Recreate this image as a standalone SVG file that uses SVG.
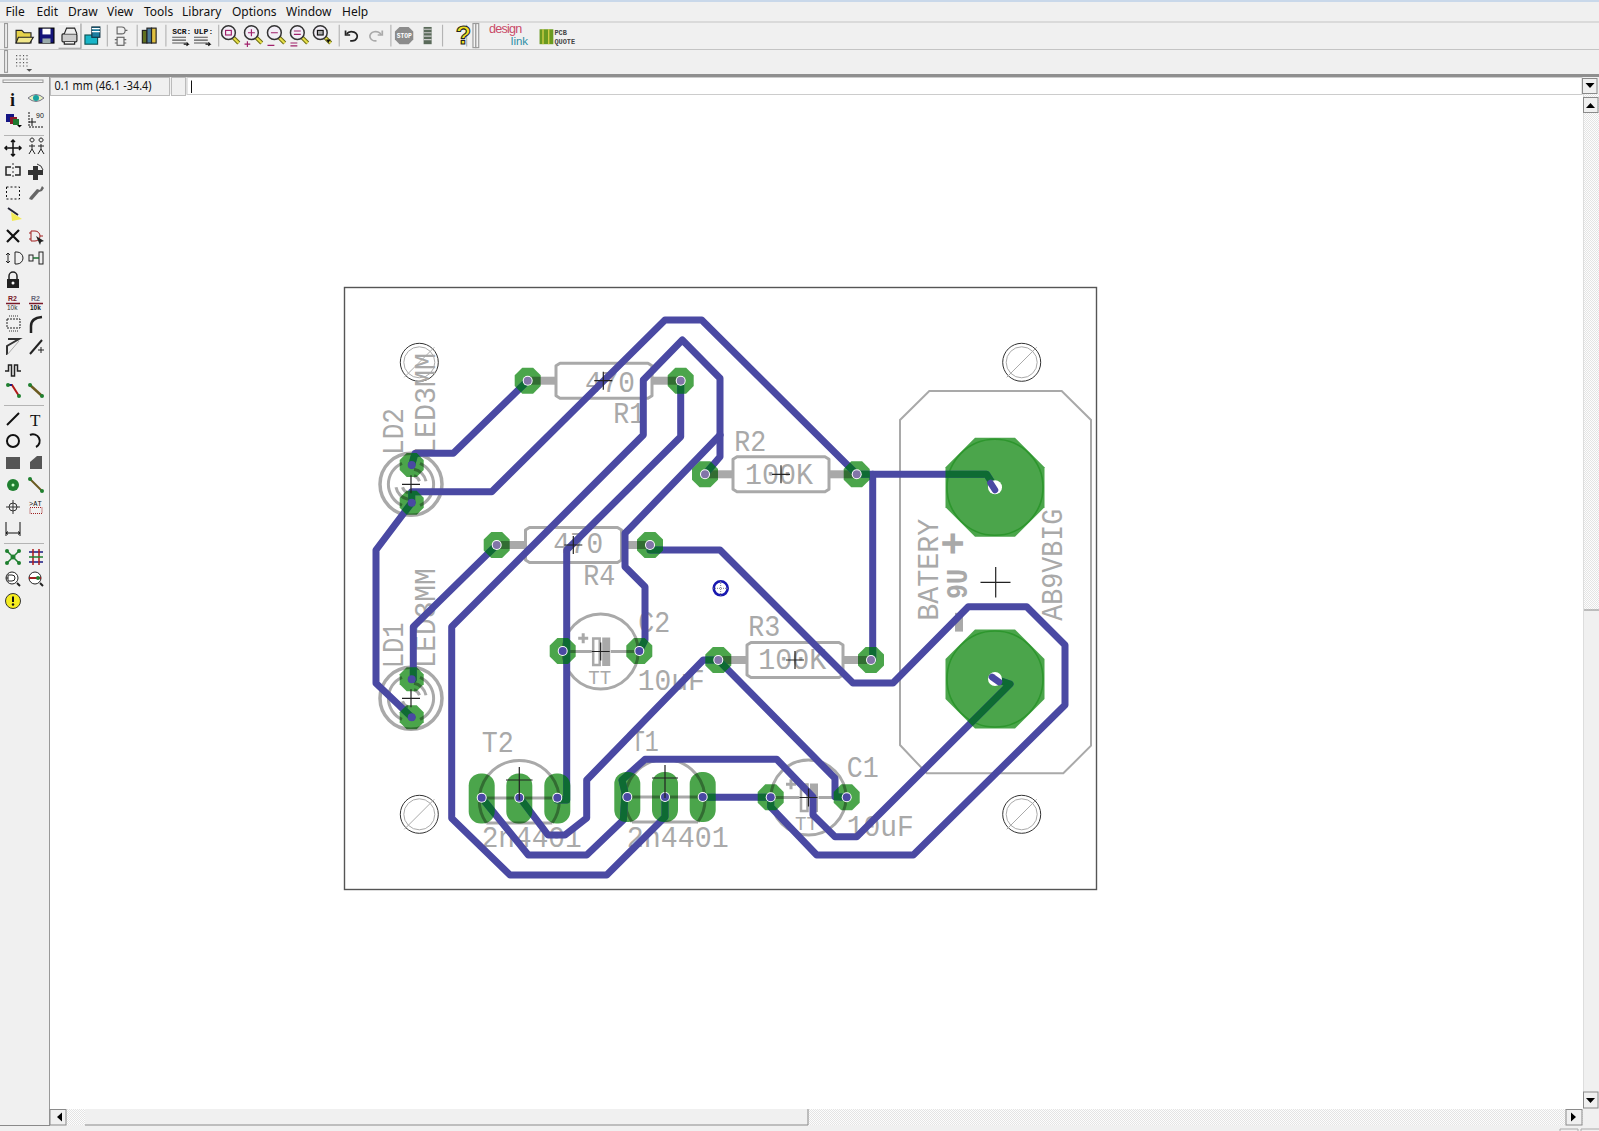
<svg xmlns="http://www.w3.org/2000/svg" xmlns:xlink="http://www.w3.org/1999/xlink" width="1599" height="1131" viewBox="0 0 1599 1131">
<style>
.menu{font:12px "Noto Sans","Liberation Sans",sans-serif;fill:#111}
.silk{font-family:"Liberation Mono","DejaVu Sans Mono",monospace;font-size:29px;fill:#a9a9a9}
.sl{fill:none;stroke:#a9a9a9;stroke-width:3}
.tr{fill:none;stroke:#4a49a3;stroke-width:7;stroke-linejoin:round;stroke-linecap:round}
.trd{fill:none;stroke:#0e6b33;stroke-width:7;stroke-linejoin:round;stroke-linecap:round}
.pad{fill:#4ba54b}
.hole{fill:#fff}
.dot{fill:#4a49a3}
.dotg{fill:#8275a8}
.xh{fill:none;stroke:#222;stroke-width:1.2}
.sep{stroke:#b4b4b4;stroke-width:1}
.ic{fill:none;stroke:#111;stroke-width:2}
.grip{fill:#f4f4f4;stroke:#999;stroke-width:1}
.btn{fill:#f0f0f0;stroke:#8a8a8a;stroke-width:1}
.arr{fill:#000}
.tiny{font-family:"Liberation Mono",monospace;font-weight:bold}
</style>
<defs>
<polygon id="p13" points="-5.4,-13 5.4,-13 13,-5.4 13,5.4 5.4,13 -5.4,13 -13,5.4 -13,-5.4"/>
<polygon id="p12" points="-5,-12 5,-12 12,-5 12,5 5,12 -5,12 -12,5 -12,-5"/>
<polygon id="pb" points="-20,-49.5 20,-49.5 49.5,-20 49.5,20 20,49.5 -20,49.5 -49.5,20 -49.5,-20"/>
<rect id="po" x="-13" y="-25" width="26" height="50" rx="12" ry="12"/>
<g id="mh">
<circle r="19" fill="none" stroke="#333" stroke-width="1"/>
<circle r="15.5" fill="none" stroke="#aaa" stroke-width="1"/>
<line x1="-15" y1="15" x2="15" y2="-15" stroke="#aaa" stroke-width="1"/>
</g>
<g id="res">
<path class="sl" d="M-44,-17.5H44L48,-15V15L44,17.5H-44L-48,15V-15Z" stroke-linejoin="round"/>
<rect x="-76" y="-4" width="28" height="8" fill="#a9a9a9"/>
<rect x="48" y="-4" width="28" height="8" fill="#a9a9a9"/>
</g>
<g id="cap">
<circle r="37.5" class="sl"/>
<path d="M-37,0H-9M10,0H37" stroke="#a9a9a9" stroke-width="3"/>
<rect x="-7.5" y="-13" width="6.5" height="26.5" fill="none" stroke="#a9a9a9" stroke-width="2.5"/>
<rect x="1.5" y="-14" width="8" height="28.5" fill="#a9a9a9"/>
<path d="M-22.5,-13.3H-12.5M-17.5,-18.3V-8.3" stroke="#a9a9a9" stroke-width="3"/>
</g>
<g id="tra">
<path class="sl" d="M-33,25A40,40 0 1 1 33,25"/>
<path class="sl" d="M-33,25H33"/>
<path d="M-38,0H38" stroke="#a9a9a9" stroke-width="3"/>
</g>
<g id="led">
<circle r="31" class="sl" style="stroke-width:3.5"/>
<path class="sl" d="M-9,-21A23,23 0 0 0 -9,21M9,21A23,23 0 0 0 9,-21"/>
<path class="sl" d="M3,-15A15,15 0 0 1 15,-3M-3,15A15,15 0 0 1 -15,3M3,-8.500A8.500,8.500 0 0 1 8.500,-3M-3,8.500A8.500,8.500 0 0 1 -8.500,3"/>
</g>
<path id="xs" class="xh" d="M-9,0H9M0,-9V9"/>
<g id="mag">
<line x1="3" y1="3" x2="9" y2="9" stroke="#6b6b10" stroke-width="3.6"/>
<line x1="3" y1="3" x2="9" y2="9" stroke="#e6df4a" stroke-width="1.8"/>
<circle r="6" fill="#f2eef6" stroke="#333" stroke-width="1.3"/>
</g>
<pattern id="dith" width="2" height="2" patternUnits="userSpaceOnUse">
<rect width="2" height="2" fill="#fdfdfd"/><rect width="1" height="1" fill="#e4e4e4"/><rect x="1" y="1" width="1" height="1" fill="#e4e4e4"/>
</pattern>
<clipPath id="padclip">
<use xlink:href="#p13" x="527.700" y="380.700"/><use xlink:href="#p13" x="680.700" y="380.700"/>
<use xlink:href="#p13" x="705" y="474.300"/><use xlink:href="#p13" x="856.700" y="474.300"/>
<use xlink:href="#p13" x="496.700" y="545"/><use xlink:href="#p13" x="650" y="545"/>
<use xlink:href="#p13" x="718.300" y="660"/><use xlink:href="#p13" x="871" y="660"/>
<use xlink:href="#p13" x="562.700" y="651"/><use xlink:href="#p13" x="639.300" y="651"/>
<use xlink:href="#p13" x="770.700" y="797.300"/><use xlink:href="#p13" x="846.700" y="797.300"/>
<use xlink:href="#p12" x="411.700" y="465"/><use xlink:href="#p12" x="411.700" y="502.700"/>
<use xlink:href="#p12" x="411.700" y="679.300"/><use xlink:href="#p12" x="411.700" y="717.300"/>
<use xlink:href="#po" x="481.700" y="798.500"/><use xlink:href="#po" x="519.300" y="798.500"/><use xlink:href="#po" x="557.300" y="798.500"/>
<use xlink:href="#po" x="627.300" y="797"/><use xlink:href="#po" x="665" y="797"/><use xlink:href="#po" x="702.700" y="797"/>
<use xlink:href="#pb" x="995" y="487.300"/><use xlink:href="#pb" x="995" y="679"/>
</clipPath>
<g id="tracepaths">
<path d="M411.700,465L415,453.300H453.300L527.700,380.700"/>
<path d="M411.700,502.700V491.700H491.700L665,320H701.700L856.700,474.300H986.700L995,487.300"/>
<path d="M411.700,502.700L376,550V683.300L411.700,717.300"/>
<path d="M680.700,380.700V436.700L566.700,550V800H557.300"/>
<path d="M705,474.300L720,456.700V378.300L682.300,340L643.300,380V435L451.700,626.700V818.300L510,875H606.700L665,817V797"/>
<path d="M720,435L625,533.300V566.700L645,586.700V640L639.300,651"/>
<path d="M650,550H720L853,683H893L968.300,606.700H1026.700L1065,645V705L913.300,855H816.700L770.700,807V797.300H702.700"/>
<path d="M718.300,660H703.300L586.700,780V818L565,835H548L519.300,797"/>
<path d="M718.300,660L835,778.300V796.700L846.700,797.300"/>
<path d="M481.700,797.700L528.300,855H586.700L623.300,820L625,793L622,780L645,759.300H776.700L813,797V815L835,836.700H856.700L1010,684L995,679"/>
<path d="M872.700,474.300V660H871"/>
<path d="M496.700,545L413.300,626.700V679.300H411.700"/>
</g>
</defs>

<rect width="1599" height="1131" fill="#f0f0f0"/>
<rect x="50" y="94" width="1533" height="1015" fill="#fff"/>
<rect width="1599" height="2" fill="#c9d8ea"/>

<g id="menubar">
<text class="menu" x="5.500" y="16">File</text><text class="menu" x="36.500" y="16">Edit</text><text class="menu" x="68" y="16">Draw</text><text class="menu" x="107" y="16">View</text><text class="menu" x="144" y="16">Tools</text><text class="menu" x="182" y="16">Library</text><text class="menu" x="232" y="16">Options</text><text class="menu" x="286" y="16">Window</text><text class="menu" x="342" y="16">Help</text>
</g>
<path d="M0,22H1599M0,49.500H1599" stroke="#c4c4c4" stroke-width="1"/>
<rect x="0" y="74" width="1599" height="3" fill="#8f8f8f"/>
<rect x="49" y="77" width="1" height="1048" fill="#999"/>

<g id="toolbar">
<g transform="translate(0,35) scale(1.148) translate(0,-35)">
<rect class="grip" x="4" y="25" width="2.500" height="21"/><rect class="grip" x="412" y="25" width="2.500" height="21"/><rect class="grip" x="414.500" y="25" width="2.500" height="21"/>
<path class="sep" d="M93.500,26V45M119.500,26V45M144.500,26V45M190.500,26V45M295.500,26V45M340.500,26V45M385.500,26V45M406.500,26V45"/>
<g id="t-open"><path d="M14,31h5l2,2h6v9H14z" fill="#e6d24a" stroke="#222"/><path d="M16,37H29L26,42H14z" fill="#f1e78a" stroke="#222"/></g>
<g id="t-save"><rect x="34" y="29" width="13" height="13" fill="#14147a" stroke="#000"/><rect x="37" y="29.500" width="7" height="5" fill="#fff"/><rect x="37" y="38" width="7" height="4" fill="#9aa"/></g>
<g id="t-print"><path d="M51,25.500H70V46" fill="none" stroke="#fff"/><path d="M51,46.500H70.500V25" fill="none" stroke="#999"/><rect x="54" y="34" width="13" height="7" rx="1" fill="#ccc" stroke="#222"/><path d="M56,34L58,29H65L67,34M56,41V43H65V41" fill="#eee" stroke="#222"/></g>
<g id="t-cam"><rect x="74" y="35" width="11" height="8" fill="#18b5c8" stroke="#155"/><rect x="80" y="28" width="7" height="9" fill="#1b7ea0" stroke="#134"/><path d="M80,29.500h7M80,32h7" stroke="#fff"/></g>
<g id="t-sch" stroke="#666" fill="none"><path d="M102,28h4a3,3 0 0 1 0,6h-4zM109,31h2"/><rect x="102" y="37" width="6" height="7"/><path d="M100,39h2M100,42h2M108,39h2M108,42h2"/></g>
<g id="t-lib"><rect x="124" y="31" width="4" height="11" fill="#607020" stroke="#222"/><rect x="128" y="29" width="4" height="13" fill="#4b7a9a" stroke="#222"/><rect x="132" y="29" width="4" height="13" fill="#e0c040" stroke="#222"/></g>
<g id="t-scr"><text class="tiny" x="150" y="34" font-size="7" fill="#111">SCR:</text><path d="M150,37h12M150,39.500h12M150,42h12" stroke="#555"/><path d="M160,43h4l-1.500,-1.500M164,43l-1.500,1.500" stroke="#111" fill="none"/><text class="tiny" x="169" y="34" font-size="7" fill="#111">ULP:</text><path d="M169,37h12M169,39.500h12M169,42h12" stroke="#555"/><path d="M179,43h4l-1.500,-1.500M183,43l-1.500,1.500" stroke="#111" fill="none"/></g>
<g id="t-zoom">
<use xlink:href="#mag" x="199" y="33"/><rect x="196.500" y="31" width="5" height="4" fill="none" stroke="#a0206a"/>
<use xlink:href="#mag" x="219" y="33"/><path d="M216,33h6M219,30v6M213,43h5M215.500,40.500v5" stroke="#a0206a" fill="none"/>
<use xlink:href="#mag" x="239" y="33"/><path d="M236,33h6M233,44h6" stroke="#a0206a" fill="none"/>
<use xlink:href="#mag" x="259" y="33"/><path d="M256,31.500h6M256,34.500h6M253,42h6M253,44.500h6" stroke="#a0206a" fill="none"/>
<use xlink:href="#mag" x="279" y="33"/><rect x="276.500" y="31" width="5" height="4" fill="#a9a9a9" stroke="#111"/><path d="M284,39h4l-2,3z" fill="#111"/>
</g>
<g id="t-undo" fill="none" stroke="#222" stroke-width="1.500"><path d="M302,34a5,4 0 1 1 3,6"/><path d="M301,31v4h4"/></g>
<g id="t-redo" fill="none" stroke="#aaa" stroke-width="1.500"><path d="M332,35a5,4 0 1 0 -4,5"/><path d="M333,31v4h-4"/></g>
<g id="t-stop"><polygon points="348,28 356,28 360,32 360,39 356,43 348,43 344,39 344,32" fill="#8c8c8c"/><text class="tiny" x="345.500" y="38" font-size="5.500" fill="#fff">STOP</text></g>
<g id="t-str"><rect x="369" y="28" width="7" height="15" fill="#5a6a5a"/><path d="M369,30h7M369,33h7M369,36h7M369,39h7" stroke="#ccc"/></g>
<text id="t-help" x="397" y="43" font-family="Liberation Sans,sans-serif" font-weight="bold" font-size="22" fill="#f0e020" stroke="#222" stroke-width=".9">?</text>
<g id="t-link"><text x="426" y="33" font-family="Liberation Sans,sans-serif" font-size="11" fill="#c94a68" textLength="29">design</text><text x="445" y="44" font-family="Liberation Sans,sans-serif" font-size="10" fill="#2e8fa6" textLength="15">link</text></g>
<g id="t-pcb"><rect x="470" y="30" width="12" height="13" fill="#6a9a20"/><path d="M473,30v13M478,30v13" stroke="#e5d850"/><text class="tiny" x="483" y="35" font-size="6" fill="#444">PCB</text><text class="tiny" x="483" y="43" font-size="6" fill="#444">QUOTE</text></g>
</g>
<g transform="translate(0,62) scale(1.148) translate(0,-62)">
<rect class="grip" x="4" y="52" width="2.500" height="19"/>
<g id="t-grid" fill="#555"><rect x="14" y="55" width="12" height="12" fill="url(#dith)"/><path d="M14,56.500h12M14,59.500h12M14,62.500h12M14,65.500h12" stroke="#555" stroke-dasharray="1 2" stroke-width="1"/><path d="M23,68h5l-2.500,2.500z"/></g>
</g>
</g>

<g id="cmdline">
<rect x="50.500" y="77.500" width="119" height="18" fill="#f0f0f0" stroke="#bbb"/>
<text class="menu" x="54.500" y="90" textLength="97" lengthAdjust="spacingAndGlyphs">0.1 mm (46.1 -34.4)</text>
<rect x="171.500" y="77.500" width="14" height="18" fill="#f0f0f0" stroke="#bbb"/>
<rect x="187" y="77.500" width="1395" height="17" fill="#fff" stroke="#ccc"/>
<path d="M191.500,80.500V93" stroke="#111"/>
<rect class="btn" x="1582.500" y="78.500" width="14.500" height="15"/><path class="arr" d="M1585.500,83h9l-4.500,5z"/>
</g>

<g id="leftbar">
<rect class="grip" x="3" y="80" width="40" height="2.500"/>
<path class="sep" d="M4,135.500H44M4,405.500H44M4,543.500H44"/>
<text id="l-info" x="10" y="106" font-family="Liberation Serif,serif" font-weight="bold" font-size="18" fill="#111">i</text>
<g id="l-eye"><path d="M28,98q8,-7 16,0q-8,7 -16,0z" fill="#e8f0c0" stroke="#778"/><circle cx="36" cy="98" r="3" fill="#18a0a0"/></g>
<g id="l-layers"><rect x="6" y="114" width="8" height="8" fill="#151585"/><rect x="10" y="117" width="7" height="7" fill="#8c1a2a"/><rect x="13" y="119" width="6" height="6" fill="#1f7a30"/><path d="M17,125h5l-2.500,2.500z"/></g>
<g id="l-coord" fill="none" stroke="#111"><path d="M29,112V127H44" stroke-dasharray="2 1"/><path d="M29,122H36M32,118V126"/><text x="36" y="118" font-size="7" fill="#111" stroke="none" font-family="Liberation Sans,sans-serif">90</text></g>
<path id="l-move" class="ic" stroke-width="1.500" style="stroke-width:1.500" d="M5,148H21M13,140V156M7,146l-2,2 2,2M19,146l2,2 -2,2M11,142l2,-2 2,2M11,154l2,2 2,-2"/>
<g id="l-group"><path d="M32,142a2,2 0 1 1 .1,0M32,144V149M29,146H35M32,149l-3,5M32,149l3,5M41,142a2,2 0 1 1 .1,0M41,144V149M38,146H44M41,149l-3,5M41,149l3,5" fill="none" stroke="#222"/></g>
<g id="l-mirror"><path d="M11,167H6V175H11M15,167H20V175H15" fill="none" stroke="#222" stroke-width="1.500"/><path d="M13,163V179" stroke="#333" stroke-dasharray="2 2"/></g>
<g id="l-rotate"><rect x="28" y="170" width="15" height="5" fill="#333"/><rect x="33" y="166" width="5" height="14" fill="#333"/><path d="M37,164a8,8 0 0 1 6,6" fill="none" stroke="#333"/></g>
<rect id="l-select" x="6.500" y="187" width="13" height="12" fill="none" stroke="#111" stroke-dasharray="2 2"/>
<path id="l-wrench" d="M42,186l-2,4 -3,-1 -7,8 -1,2 3,1 7,-8 3,-1 2,-3z" fill="#666"/>
<g id="l-paste"><path d="M8,208L18,215" stroke="#223" stroke-width="2"/><path d="M11,212L22,219L12,221z" fill="#f2ea55"/></g>
<path id="l-del" class="ic" style="stroke-width:2.200" d="M7,230L19,242M19,230L7,242"/>
<g id="l-add"><path d="M31,231h4a5,5 0 0 1 0,10h-4zM29,233h2M29,239h2M40,236h3" fill="none" stroke="#a02020"/><path d="M36,236l8,5 -3,1 -1,3z" fill="#222"/></g>
<g id="l-change"><path d="M15,252h2a6,6 0 0 1 0,12h-2zM8,253V263M6,255l2,-2 2,2M6,261l2,2 2,-2" fill="none" stroke="#222"/></g>
<g id="l-swap"><rect x="29" y="255" width="4" height="6" fill="none" stroke="#222"/><rect x="39" y="252" width="4" height="12" fill="none" stroke="#222"/><path d="M33,258H39" stroke="#1d7030" stroke-width="1.500"/></g>
<g id="l-lock"><rect x="7" y="279" width="12" height="9" fill="#222"/><path d="M9,279v-3a4,4 0 0 1 8,0v3" fill="none" stroke="#222" stroke-width="1.500"/><circle cx="13" cy="283" r="1.500" fill="#fff"/></g>
<g id="l-name"><text x="8" y="301" font-size="7" fill="#7a1a2a" font-family="Liberation Sans,sans-serif" font-weight="bold">R2</text><path d="M6,303.500H20" stroke="#7a1a2a" stroke-width="1.500"/><text x="7" y="310" font-size="6.500" fill="#333" font-family="Liberation Sans,sans-serif">10k</text></g>
<g id="l-value"><text x="31" y="301" font-size="7" fill="#667" font-family="Liberation Sans,sans-serif" font-weight="bold">R2</text><path d="M29,303.500H43" stroke="#7a1a2a" stroke-width="1.500"/><text x="30" y="310" font-size="6.500" fill="#111" font-family="Liberation Sans,sans-serif" font-weight="bold">10k</text></g>
<g id="l-smash"><rect x="7" y="319" width="13" height="9" fill="none" stroke="#222" stroke-dasharray="2 1"/><path d="M9,316h9M9,331h9" stroke="#333" stroke-dasharray="1 1"/></g>
<path id="l-miter" d="M31,333V326Q31,318 42,317" fill="none" stroke="#222" stroke-width="2.500"/>
<g id="l-split"><path d="M7,355V346L19,339H8" fill="none" stroke="#333" stroke-width="2"/><path d="M7,355L19,341" stroke="#aaa"/></g>
<g id="l-opt"><path d="M30,354L42,340" stroke="#222" stroke-width="2"/><path d="M38,350h6M41,347v6" stroke="#222"/></g>
<path id="l-mean" d="M5,371h3.500v-6h3v11h3v-11h3v6h3.500" fill="none" stroke="#222" stroke-width="1.500"/>
<g id="l-route"><path d="M8,385H12L19,396" fill="none" stroke="#b01818" stroke-width="2"/><path d="M8,385H12" stroke="#1a1a80" stroke-width="2"/><circle cx="8" cy="385" r="2" fill="#1f8030"/><circle cx="19" cy="396" r="2" fill="#1f8030"/></g>
<g id="l-rip"><path d="M30,385L42,396" stroke="#6b5a20" stroke-width="2.500"/><circle cx="30" cy="385" r="2" fill="#1f8030"/><circle cx="42" cy="396" r="2" fill="#1f8030"/></g>
<path id="l-line" d="M7,425L19,413" stroke="#111" stroke-width="2"/>
<text id="l-text" x="30" y="426" font-family="Liberation Serif,serif" font-size="17" fill="#111">T</text>
<circle id="l-circ" cx="13" cy="441" r="6" fill="none" stroke="#111" stroke-width="2"/>
<path id="l-arc" d="M30,435a6,6 0 1 1 6,12" fill="none" stroke="#111" stroke-width="2"/>
<rect id="l-rect" x="6" y="457" width="14" height="12" fill="#555"/>
<polygon id="l-poly" points="30,469 30,462 37,456 42,456 42,469" fill="#555"/>
<g id="l-via"><circle cx="13" cy="485" r="6" fill="#1f8030"/><circle cx="13" cy="485" r="1.500" fill="#cfc"/></g>
<g id="l-signal"><path d="M30,479L42,491" stroke="#6b5a20" stroke-width="2"/><circle cx="30" cy="479" r="2" fill="#1f8030"/><circle cx="42" cy="491" r="2" fill="#1f8030"/></g>
<g id="l-hole" fill="none" stroke="#333"><circle cx="13" cy="507" r="4"/><path d="M6,507H20M13,500V514"/></g>
<g id="l-attr"><text x="29" y="506" font-size="7" font-family="Liberation Mono,monospace" fill="#111">&gt;AT</text><rect x="30" y="507.500" width="12" height="6" fill="none" stroke="#a02020" stroke-dasharray="1 1"/></g>
<path id="l-dim" d="M6,522V536M20,522V536M6,533H20M8,531.500l-2,1.500 2,1.500M18,531.500l2,1.500 -2,1.500" fill="none" stroke="#111"/>
<g id="l-rats"><path d="M7,551L19,563M19,551L7,563" stroke="#1f8030" stroke-width="1.500"/><circle cx="7" cy="551" r="2" fill="#1f8030"/><circle cx="19" cy="551" r="2" fill="#1f8030"/><circle cx="7" cy="563" r="2" fill="#1f8030"/><circle cx="19" cy="563" r="2" fill="#1f8030"/><circle cx="13" cy="557" r="2.500" fill="#1f8030"/></g>
<g id="l-auto"><path d="M29,552H43M29,562H43" stroke="#1a1a80" stroke-width="1.500"/><path d="M33,549V565M39,549V565" stroke="#b01818" stroke-width="1.500"/><path d="M29,557H43" stroke="#1f8030" stroke-width="1.500"/></g>
<g id="l-erc"><circle cx="12" cy="578" r="6" fill="#fff" stroke="#222"/><path d="M8,575h4a3,3 0 0 1 0,6h-4zM6,578h2" fill="none" stroke="#222"/><path d="M17,583l3,3" stroke="#222" stroke-width="2"/></g>
<g id="l-drc"><circle cx="35" cy="578" r="6" fill="#fff" stroke="#222"/><path d="M29,578H41" stroke="#a02020" stroke-width="2"/><circle cx="38" cy="578" r="2" fill="#1f8030"/><path d="M40,583l3,3" stroke="#222" stroke-width="2"/></g>
<g id="l-warn"><circle cx="13" cy="601" r="7.500" fill="#f5ec20" stroke="#333"/><path d="M13,596.500V602" stroke="#111" stroke-width="2"/><circle cx="13" cy="604.500" r="1.200" fill="#111"/></g>
</g>

<g id="scrollbars">
<rect x="1583" y="94" width="16" height="518" fill="url(#dith)"/>
<rect x="1583" y="610" width="16" height="482" fill="#f0f0f0"/>
<path d="M1583,610H1599" stroke="#888"/>
<path d="M1583.500,94V1108" stroke="#ddd"/>
<rect class="btn" x="1583.500" y="97.500" width="14.500" height="15"/><path class="arr" d="M1586,108h9l-4.500,-5z"/>
<rect class="btn" x="1583.500" y="1092" width="14.500" height="16"/><path class="arr" d="M1586,1098h9l-4.500,5z"/>
<rect x="50" y="1109" width="1533" height="16" fill="url(#dith)"/>
<rect x="85" y="1109" width="723" height="16" fill="#f0f0f0"/>
<path d="M808,1109V1125" stroke="#888"/>
<path d="M85,1125H808M0,1125.500H50" stroke="#8a8a8a"/>
<rect class="btn" x="50" y="1109.500" width="16" height="15.500"/><path class="arr" d="M62,1112.500v9l-5,-4.500z"/>
<rect class="btn" x="1566" y="1109.500" width="16" height="15.500"/><path class="arr" d="M1571,1112.500v9l5,-4.500z"/>
<path d="M1560,1131V1129H1578V1131M1581,1131V1129H1599" fill="none" stroke="#aaa"/>
</g>

<g id="board-outline"><rect x="344.500" y="287.500" width="752" height="602" fill="none" stroke="#555" stroke-width="1.400"/></g>

<g id="holes">
<use xlink:href="#mh" x="419.300" y="362.300"/><use xlink:href="#mh" x="1021.700" y="362.300"/><use xlink:href="#mh" x="419.300" y="814.300"/><use xlink:href="#mh" x="1021.700" y="814.300"/>
</g>

<g id="battery-silk">
<polygon points="929.300,391 1061.700,391 1091,420 1091,745.700 1063.300,773.300 926.700,773.300 900,745 900,420" fill="none" stroke="#a9a9a9" stroke-width="2"/>
<text class="silk" transform="translate(938.300,620.700) rotate(-90)" textLength="102" lengthAdjust="spacingAndGlyphs">BATERY</text>
<text class="silk" transform="translate(966.700,599) rotate(-90)" font-weight="bold" textLength="30" lengthAdjust="spacingAndGlyphs">9U</text>
<text class="silk" transform="translate(965.500,555.500) rotate(-90)" font-weight="bold" style="font-size:40px">+</text>
<text class="silk" transform="translate(975.500,642) rotate(-90)" font-weight="bold" style="font-size:66px">-</text>
<text class="silk" transform="translate(1061.700,620.700) rotate(-90)" textLength="112" lengthAdjust="spacingAndGlyphs">AB9VBIG</text>
</g>

<g id="LD2"><use xlink:href="#led" x="411" y="484.300"/>
<text class="silk" transform="translate(403.300,455) rotate(-90)" textLength="47" lengthAdjust="spacingAndGlyphs">LD2</text>
<text class="silk" transform="translate(435,455) rotate(-90)" textLength="102" lengthAdjust="spacingAndGlyphs">LED3MM</text></g>
<g id="LD1"><use xlink:href="#led" x="411" y="698.300"/>
<text class="silk" transform="translate(403.300,668.300) rotate(-90)" textLength="46" lengthAdjust="spacingAndGlyphs">LD1</text>
<text class="silk" transform="translate(435,668.300) rotate(-90)" textLength="100" lengthAdjust="spacingAndGlyphs">LED3MM</text></g>
<g id="R1"><use xlink:href="#res" x="604" y="380.700"/><text class="silk" x="585" y="391.700" textLength="50" lengthAdjust="spacingAndGlyphs">470</text><text class="silk" x="613.300" y="422.700" textLength="32" lengthAdjust="spacingAndGlyphs">R1</text></g>
<g id="R4"><use xlink:href="#res" x="573.500" y="545"/><text class="silk" x="553.300" y="553.300" textLength="50" lengthAdjust="spacingAndGlyphs">470</text><text class="silk" x="583.300" y="585" textLength="32" lengthAdjust="spacingAndGlyphs">R4</text></g>
<g id="R2"><use xlink:href="#res" x="781" y="474.300"/><text class="silk" x="745" y="484" textLength="68" lengthAdjust="spacingAndGlyphs">100K</text><text class="silk" x="734.300" y="451" textLength="32" lengthAdjust="spacingAndGlyphs">R2</text></g>
<g id="R3"><use xlink:href="#res" x="795" y="660"/><text class="silk" x="758.300" y="669.300" textLength="68" lengthAdjust="spacingAndGlyphs">100K</text><text class="silk" x="748.300" y="636" textLength="32" lengthAdjust="spacingAndGlyphs">R3</text></g>
<g id="C2"><use xlink:href="#cap" x="600.700" y="651.500"/><text class="silk" x="638.300" y="631.700" textLength="32" lengthAdjust="spacingAndGlyphs">C2</text><text class="silk" x="637.700" y="690" textLength="67" lengthAdjust="spacingAndGlyphs">10uF</text><text class="silk" x="588.300" y="684" style="font-size:21px" textLength="23" lengthAdjust="spacingAndGlyphs">TT</text></g>
<g id="C1"><use xlink:href="#cap" x="808.500" y="797.500"/><text class="silk" x="846.700" y="777.300" textLength="32" lengthAdjust="spacingAndGlyphs">C1</text><text class="silk" x="846.700" y="836" textLength="67" lengthAdjust="spacingAndGlyphs">10uF</text><text class="silk" x="795" y="830" style="font-size:21px" textLength="23" lengthAdjust="spacingAndGlyphs">TT</text></g>
<g id="T2"><use xlink:href="#tra" x="519.300" y="798"/><text class="silk" x="481.700" y="752.300" textLength="32" lengthAdjust="spacingAndGlyphs">T2</text><text class="silk" x="481.700" y="847.300" textLength="100" lengthAdjust="spacingAndGlyphs">2n4401</text></g>
<g id="T1"><use xlink:href="#tra" x="665" y="797"/><text class="silk" x="630.700" y="750.700" textLength="28" lengthAdjust="spacingAndGlyphs">T1</text><text class="silk" x="626.700" y="847.300" textLength="102" lengthAdjust="spacingAndGlyphs">2n4401</text></g>

<g id="pads" class="pad" style="mix-blend-mode:multiply">
<use xlink:href="#p13" x="527.700" y="380.700"/><use xlink:href="#p13" x="680.700" y="380.700"/>
<use xlink:href="#p13" x="705" y="474.300"/><use xlink:href="#p13" x="856.700" y="474.300"/>
<use xlink:href="#p13" x="496.700" y="545"/><use xlink:href="#p13" x="650" y="545"/>
<use xlink:href="#p13" x="718.300" y="660"/><use xlink:href="#p13" x="871" y="660"/>
<use xlink:href="#p13" x="562.700" y="651"/><use xlink:href="#p13" x="639.300" y="651"/>
<use xlink:href="#p13" x="770.700" y="797.300"/><use xlink:href="#p13" x="846.700" y="797.300"/>
<use xlink:href="#p12" x="411.700" y="465"/><use xlink:href="#p12" x="411.700" y="502.700"/>
<use xlink:href="#p12" x="411.700" y="679.300"/><use xlink:href="#p12" x="411.700" y="717.300"/>
<use xlink:href="#po" x="481.700" y="798.500"/><use xlink:href="#po" x="519.300" y="798.500"/><use xlink:href="#po" x="557.300" y="798.500"/>
<use xlink:href="#po" x="627.300" y="797"/><use xlink:href="#po" x="665" y="797"/><use xlink:href="#po" x="702.700" y="797"/>
<use xlink:href="#pb" x="995" y="487.300"/><use xlink:href="#pb" x="995" y="679"/>
</g>
<g id="pad-rims" fill="none" stroke="#2d962d" stroke-width="1.600"><circle cx="995" cy="487.300" r="48"/><circle cx="995" cy="679" r="48"/></g>

<g id="connectors">
<use xlink:href="#tracepaths" class="tr"/>
<g clip-path="url(#padclip)"><use xlink:href="#tracepaths" class="trd"/></g>
</g>

<g id="drills">
<g class="hole">
<circle cx="527.700" cy="380.700" r="5"/><circle cx="680.700" cy="380.700" r="5"/><circle cx="705" cy="474.300" r="5"/><circle cx="856.700" cy="474.300" r="5"/><circle cx="496.700" cy="545" r="5"/><circle cx="650" cy="545" r="5"/><circle cx="718.300" cy="660" r="5"/><circle cx="871" cy="660" r="5"/><circle cx="562.700" cy="651" r="5"/><circle cx="639.300" cy="651" r="5"/><circle cx="770.700" cy="797.300" r="5"/><circle cx="846.700" cy="797.300" r="5"/><circle cx="481.700" cy="797.700" r="5"/><circle cx="519.300" cy="797.700" r="5"/><circle cx="557.300" cy="797.700" r="5"/><circle cx="627.300" cy="797" r="5"/><circle cx="665" cy="797" r="5"/><circle cx="702.700" cy="797" r="5"/><circle cx="995" cy="487.300" r="7"/><circle cx="995" cy="679" r="7"/>
</g>
<g class="dotg"><circle cx="527.700" cy="380.700" r="4"/><circle cx="680.700" cy="380.700" r="4"/><circle cx="705" cy="474.300" r="4"/><circle cx="856.700" cy="474.300" r="4"/><circle cx="496.700" cy="545" r="4"/><circle cx="650" cy="545" r="4"/><circle cx="718.300" cy="660" r="4"/><circle cx="871" cy="660" r="4"/></g>
<g class="dot"><circle cx="562.700" cy="651" r="4"/><circle cx="639.300" cy="651" r="4"/><circle cx="770.700" cy="797.300" r="4"/><circle cx="846.700" cy="797.300" r="4"/><circle cx="411.700" cy="465" r="4"/><circle cx="411.700" cy="502.700" r="4"/><circle cx="411.700" cy="679.300" r="4"/><circle cx="411.700" cy="717.300" r="4"/><circle cx="481.700" cy="797.700" r="4"/><circle cx="519.300" cy="797.700" r="4"/><circle cx="557.300" cy="797.700" r="4"/><circle cx="627.300" cy="797" r="4"/><circle cx="665" cy="797" r="4"/><circle cx="702.700" cy="797" r="4"/></g>
<path d="M990.500,483L995,490" fill="none" stroke="#4a49a3" stroke-width="6.500" stroke-linecap="round"/>
<path d="M999,682L992,677" fill="none" stroke="#4a49a3" stroke-width="6.500" stroke-linecap="round"/>
</g>

<g id="origins">
<use xlink:href="#xs" x="603.300" y="380.700"/><use xlink:href="#xs" x="573.300" y="545"/><use xlink:href="#xs" x="781" y="474.300"/><use xlink:href="#xs" x="795" y="660"/><use xlink:href="#xs" x="411" y="484.300"/><use xlink:href="#xs" x="411" y="698.300"/><use xlink:href="#xs" x="600.700" y="651.500"/><use xlink:href="#xs" x="808.500" y="797.500"/>
<path class="xh" d="M506,780H532.500M519.300,767V800M652,778H678M665,765V798M980.500,582.300H1010.500M995.700,567V597.500"/>
</g>

<g id="via-marker"><circle cx="720.700" cy="588.300" r="7" fill="#fff" stroke="#1818b0" stroke-width="2.600"/><path d="M713,588.300H728.500M720.700,581V596" stroke="#778" stroke-width="1" stroke-dasharray="1 1"/></g>
</svg>
